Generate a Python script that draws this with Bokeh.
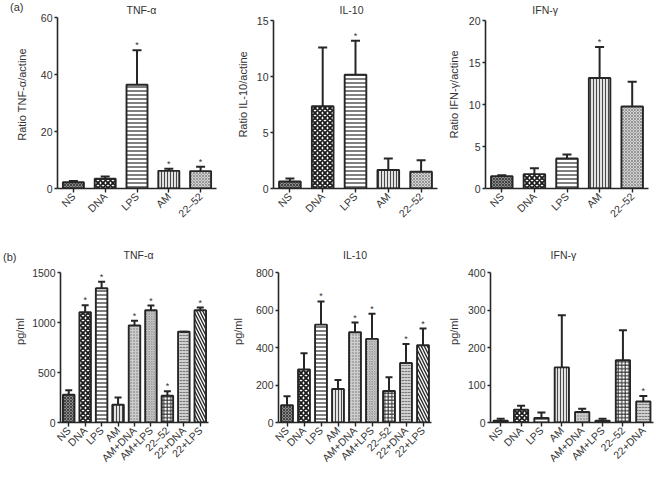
import math
from bokeh.plotting import figure
from bokeh.models import (ColumnDataSource, FactorRange, Range1d, FixedTicker,
                          Whisker, TeeHead, Label, LinearAxis)
from bokeh.layouts import row, column
from bokeh.embed import file_html
from bokeh.resources import INLINE
from bokeh.core.properties import value

# ---------------- data ----------------
cats_a = ["NS", "DNA", "LPS", "AM", "22–52"]
tnf_ratio = [2.2, 3.4, 36.4, 6.2, 6.1]
tnf_ratio_sd = [0.4, 0.8, 12.1, 0.7, 1.5]
tnf_ratio_sig = [0, 0, 1, 1, 1]
il10_ratio = [0.62, 7.35, 10.15, 1.65, 1.5]
il10_ratio_sd = [0.28, 5.25, 3.05, 1.02, 1.02]
il10_ratio_sig = [0, 0, 1, 0, 0]
ifng_ratio = [1.47, 1.71, 3.57, 13.15, 9.76]
ifng_ratio_sd = [0.12, 0.71, 0.48, 3.7, 2.95]
ifng_ratio_sig = [0, 0, 0, 1, 0]

cats_b = ["NS", "DNA", "LPS", "AM", "AM+DNA", "AM+LPS", "22–52", "22+DNA", "22+LPS"]
tnf_pg = [277, 1103, 1343, 177, 970, 1123, 267, 907, 1123]
tnf_pg_sd = [46, 70, 64, 73, 47, 47, 46, 0, 27]
tnf_pg_sig = [0, 1, 1, 0, 1, 1, 1, 0, 1]
il10_pg = [92, 283, 522, 179, 481, 446, 168, 317, 412]
il10_pg_sd = [48, 87, 124, 48, 52, 134, 74, 102, 89]
il10_pg_sig = [0, 0, 1, 0, 1, 1, 0, 1, 1]
cats_c = ["NS", "DNA", "LPS", "AM", "AM+DNA", "AM+LPS", "22–52", "22+DNA"]
ifng_pg = [4.5, 34, 12, 147, 28, 4.5, 166, 56]
ifng_pg_sd = [5.5, 11, 15, 139, 9, 5.5, 80, 15]
ifng_pg_sig = [0, 0, 0, 0, 0, 0, 0, 1]

ticks_tnf_ratio = [0, 20, 40, 60]
ticks_il10_ratio = [0, 5, 10, 15]
ticks_ifng_ratio = [0, 5, 10, 15, 20]
ticks_tnf_pg = [0, 500, 1000, 1500]
ticks_il10_pg = [0, 200, 400, 600, 800]
ticks_ifng_pg = [0, 100, 200, 300, 400]

# ---------------- styles ----------------
FONT = "Liberation Sans"
INK = "#262626"
TXT = "#333333"


def st(fill, pat, col, scale, weight):
    return dict(fill=fill, hatch=pat, hcol=col, hscale=scale, hweight=weight)


STYLE_A = {
    "NS": st("#8a8a8a", "x", "#3c3c3c", 3, 0.9),
    "DNA": st("#ffffff", "x", "#1a1a1a", 5, 1.8),
    "LPS": st("#ffffff", "-", "#2a2a2a", 4, 1.2),
    "AM": st("#e2e2e2", "|", "#4a4a4a", 3, 1.0),
    "22–52": st("#d3d3d3", "x", "#858585", 3, 0.8),
}
STYLE_B = dict(STYLE_A)
STYLE_B.update({
    "AM+DNA": st("#cdcdcd", ".", "#6f6f6f", 3, 1.0),
    "AM+LPS": st("#d2d2d2", "x", "#8c8c8c", 2.5, 0.7),
    "22–52": st("#ffffff", "+", "#2a2a2a", 3.5, 1.0),
    "22+DNA": st("#cfcfcf", '"', "#7a7a7a", 3, 1.0),
    "22+LPS": st("#ffffff", "\\", "#2a2a2a", 6, 1.4),
})


def panel(cats, vals, sds, sig, ticks, styles, title, ylabel,
          bl, fw, br, fh, bb, tick_top_px, title_x, title_dy,
          bar_w, head, als, tag=None, tag_dy=0, tag_standoff=0):
    top_tick = ticks[-1]
    y_end = top_tick * fh / (fh - tick_top_px)
    p = figure(x_range=FactorRange(*cats), y_range=Range1d(0, y_end),
               width=bl + fw + br, height=fh + bb,
               min_border_left=bl, min_border_right=br,
               min_border_top=0, min_border_bottom=bb,
               output_backend="svg", toolbar_location=None, title=None)
    p.outline_line_color = None
    p.grid.grid_line_color = None
    p.background_fill_color = "white"
    p.border_fill_color = "white"

    upper = [v + s for v, s in zip(vals, sds)]
    src = ColumnDataSource(dict(
        x=cats, top=vals, upper=upper,
        fill=[styles[c]["fill"] for c in cats],
        hatch=[styles[c]["hatch"] for c in cats],
        hcol=[styles[c]["hcol"] for c in cats],
        hscale=[styles[c]["hscale"] for c in cats],
        hweight=[styles[c]["hweight"] for c in cats],
    ))
    p.vbar(x="x", top="top", bottom=0, width=bar_w, source=src,
           fill_color="fill", hatch_pattern="hatch", hatch_color="hcol",
           hatch_scale="hscale", hatch_weight="hweight",
           line_color=INK, line_width=1.9)
    p.add_layout(Whisker(source=src, base="x", upper="upper", lower="top",
                         line_color=INK, line_width=2, level="overlay",
                         upper_head=TeeHead(size=head, line_color=INK, line_width=2),
                         lower_head=None))
    sx = [c for c, s in zip(cats, sig) if s]
    sy = [u for u, s in zip(upper, sig) if s]
    p.text(x=sx, y=sy, text=["*"] * len(sx), text_align="center",
           text_baseline="bottom", text_font=value(FONT),
           text_font_size="9px", text_color=TXT)

    # axes
    p.yaxis.ticker = FixedTicker(ticks=ticks)
    p.yaxis.bounds = (0, top_tick)
    p.yaxis.axis_label = ylabel
    p.yaxis.axis_label_standoff = als
    p.yaxis.axis_label_text_font = FONT
    p.yaxis.axis_label_text_font_size = "11px"
    p.yaxis.axis_label_text_font_style = "normal"
    p.yaxis.axis_label_text_color = TXT
    p.yaxis.minor_tick_line_color = None
    p.yaxis.major_tick_out = 3
    p.yaxis.major_tick_in = 0
    p.yaxis.major_label_standoff = 2
    p.xaxis.major_tick_out = 4
    p.xaxis.major_tick_in = 0
    p.xaxis.major_label_standoff = 2
    p.xaxis.major_label_orientation = math.pi / 4
    for ax in (p.xaxis, p.yaxis):
        ax.axis_line_color = INK
        ax.axis_line_width = 1.6
        ax.major_tick_line_color = INK
        ax.major_tick_line_width = 1.4
        ax.major_label_text_font = FONT
        ax.major_label_text_font_size = "10.5px"
        ax.major_label_text_color = TXT

    p.add_layout(Label(x=title_x, y=y_end, text=title, text_align="center",
                       text_baseline="middle", y_offset=-title_dy,
                       text_font=FONT, text_font_size="10.5px", text_color=TXT))
    if tag:
        # panel tag drawn as the single tick label of a bare extra axis on the left
        p.extra_y_ranges = {"tag": Range1d(0, 1)}
        tv = round(1 - tag_dy / fh, 3)
        tax = LinearAxis(y_range_name="tag", ticker=FixedTicker(ticks=[tv]),
                         major_label_overrides={tv: tag},
                         axis_line_color=None, major_tick_line_color=None,
                         minor_tick_line_color=None, major_tick_out=0,
                         major_tick_in=0, major_label_standoff=tag_standoff,
                         major_label_text_font=FONT,
                         major_label_text_font_size="11px",
                         major_label_text_color=TXT)
        p.add_layout(tax, "left")
    return p


p1 = panel(cats_a, tnf_ratio, tnf_ratio_sd, tnf_ratio_sig, ticks_tnf_ratio, STYLE_A,
           "TNF-α", "Ratio TNF-α/actine", 57, 159, 16, 188, 52, 17, 2.64, 9,
           0.66, 9, 10, tag="(a)", tag_dy=7, tag_standoff=-11)
p2 = panel(cats_a, il10_ratio, il10_ratio_sd, il10_ratio_sig, ticks_il10_ratio, STYLE_A,
           "IL-10", "Ratio IL-10/actine", 41, 164, 7, 188, 52, 20, 2.38, 9,
           0.66, 9, 5)
p3 = panel(cats_a, ifng_ratio, ifng_ratio_sd, ifng_ratio_sig, ticks_ifng_ratio, STYLE_A,
           "IFN-γ", "Ratio IFN-γ/actine", 39, 165, 8, 188, 52, 20, 1.83, 9,
           0.66, 9, 6)
p4 = panel(cats_b, tnf_pg, tnf_pg_sd, tnf_pg_sig, ticks_tnf_pg, STYLE_B,
           "TNF-α", "pg/ml", 49, 159, 20, 182, 55, 32, 4.75, 14,
           0.7, 7, 3, tag="(b)", tag_dy=16, tag_standoff=-5)
p5 = panel(cats_b, il10_pg, il10_pg_sd, il10_pg_sig, ticks_il10_pg, STYLE_B,
           "IL-10", "pg/ml", 45, 158, 13, 182, 55, 32, 4.5, 14,
           0.7, 7, 9)
p6 = panel(cats_c, ifng_pg, ifng_pg_sd, ifng_pg_sig, ticks_ifng_pg, STYLE_B,
           "IFN-γ", "pg/ml", 39, 170, 3, 182, 55, 32, 3.58, 14,
           0.7, 8, 5)

layout = column(row(p1, p2, p3), row(p4, p5, p6))
open("out.html", "w").write(file_html(layout, INLINE))
